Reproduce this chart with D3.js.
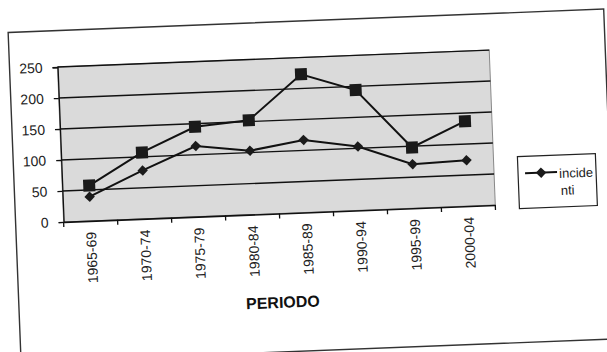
<!DOCTYPE html>
<html>
<head>
<meta charset="utf-8">
<script src="https://cdn.jsdelivr.net/npm/d3@7"></script>
<style>
  body { margin: 0; background: #fff; }
  svg { display: block; font-family: "Liberation Sans", Arial, sans-serif; }
</style>
</head>
<body>
<div id="container"></div>
<script>
let w = 607;
let h = 352;

// data
let periods = ["1965-69", "1970-74", "1975-79", "1980-84", "1985-89", "1990-94", "1995-99", "2000-04"];
let incidenti = [39, 78, 114, 103, 117, 103, 71, 74];
let altri = [57, 107, 145, 152, 223, 194, 98, 137];
let yTicks = [0, 50, 100, 150, 200, 250];

// plot area (before the scan tilt)
let plotLeft = 62, plotRight = 494, plotTop = 57.5, plotBottom = 212.5;

let svg = d3.select("#container")
  .append("svg")
  .attr("width", w)
  .attr("height", h);

let viz = svg.append("g")
  .attr("transform", "rotate(-2.25, 303, 176)");

// outer frame
viz.append("rect")
  .attr("x", 14)
  .attr("y", 21)
  .attr("width", 596)
  .attr("height", 330)
  .attr("fill", "none")
  .attr("stroke", "#333")
  .attr("stroke-width", 1.4);

let x = d3.scaleBand().domain(periods).range([plotLeft, plotRight]).padding(0);
let y = d3.scaleLinear().domain([0, 250]).range([plotBottom, plotTop]);

// plot background
viz.append("rect")
  .attr("x", plotLeft)
  .attr("y", plotTop)
  .attr("width", plotRight - plotLeft)
  .attr("height", plotBottom - plotTop)
  .attr("fill", "#dadada")
  .attr("stroke", "#888")
  .attr("stroke-width", 1);

// gridlines
viz.selectAll(".grid")
  .data(yTicks.filter(d => d > 0))
  .enter()
  .append("line")
  .attr("class", "grid")
  .attr("x1", plotLeft)
  .attr("x2", plotRight)
  .attr("y1", d => y(d))
  .attr("y2", d => y(d))
  .attr("stroke", "#111")
  .attr("stroke-width", 1.4);

// y axis
let yAxis = viz.append("g")
  .attr("transform", "translate(" + plotLeft + ",0)")
  .call(d3.axisLeft(y).tickValues(yTicks).tickSize(5).tickPadding(10));
yAxis.selectAll("text").attr("font-size", "14px").attr("fill", "#222").style("font-family", "Liberation Sans, Arial, sans-serif");
yAxis.selectAll("line, path").attr("stroke", "#111").attr("stroke-width", 1.3);

// x axis
let xAxis = viz.append("g")
  .attr("transform", "translate(0," + plotBottom + ")")
  .call(d3.axisBottom(x).tickSize(0));
xAxis.select("path").attr("stroke", "#111").attr("stroke-width", 1.6);
xAxis.selectAll("text")
  .attr("font-size", "14px")
  .attr("fill", "#222")
  .style("font-family", "Liberation Sans, Arial, sans-serif")
  .attr("transform", "rotate(-90)")
  .attr("text-anchor", "end")
  .attr("x", -11)
  .attr("y", 0)
  .attr("dy", "0.35em");

// tick marks between categories
let bounds = periods.map(d => x(d)).concat([x(periods[periods.length - 1]) + x.bandwidth()]);
viz.selectAll(".xtick")
  .data(bounds)
  .enter()
  .append("line")
  .attr("class", "xtick")
  .attr("x1", d => d)
  .attr("x2", d => d)
  .attr("y1", plotBottom)
  .attr("y2", plotBottom + 5)
  .attr("stroke", "#111")
  .attr("stroke-width", 1.3);

// axis title
viz.append("text")
  .text("PERIODO")
  .attr("x", (plotLeft + plotRight) / 2)
  .attr("y", 307)
  .attr("text-anchor", "middle")
  .attr("font-size", "16px")
  .attr("font-weight", "bold")
  .attr("fill", "#111");

let cx = d => x(d) + x.bandwidth() / 2;
let line = d3.line().x((d, i) => cx(periods[i])).y(d => y(d));

// upper series (squares)
viz.append("path")
  .datum(altri)
  .attr("d", line)
  .attr("fill", "none")
  .attr("stroke", "#111")
  .attr("stroke-width", 2);

viz.selectAll(".sq")
  .data(altri)
  .enter()
  .append("rect")
  .attr("class", "sq")
  .attr("x", (d, i) => cx(periods[i]) - 6)
  .attr("y", d => y(d) - 6)
  .attr("width", 12)
  .attr("height", 12)
  .attr("fill", "#1a1a1a");

// incidenti (diamonds)
viz.append("path")
  .datum(incidenti)
  .attr("d", line)
  .attr("fill", "none")
  .attr("stroke", "#111")
  .attr("stroke-width", 2);

let diamond = d3.symbol().type(d3.symbolDiamond2).size(70);
viz.selectAll(".dm")
  .data(incidenti)
  .enter()
  .append("path")
  .attr("class", "dm")
  .attr("d", diamond)
  .attr("transform", (d, i) => "translate(" + cx(periods[i]) + "," + y(d) + ")")
  .attr("fill", "#1a1a1a");

// legend
let legend = viz.append("g").attr("transform", "translate(518,165)");
legend.append("rect")
  .attr("width", 78)
  .attr("height", 52)
  .attr("fill", "#fff")
  .attr("stroke", "#222")
  .attr("stroke-width", 1.2);
legend.append("line")
  .attr("x1", 7)
  .attr("x2", 39)
  .attr("y1", 17)
  .attr("y2", 17)
  .attr("stroke", "#111")
  .attr("stroke-width", 2);
legend.append("path")
  .attr("d", diamond)
  .attr("transform", "translate(23,17)")
  .attr("fill", "#1a1a1a");
legend.append("text")
  .text("incide")
  .attr("x", 41)
  .attr("y", 23)
  .attr("font-size", "13px")
  .attr("fill", "#222");
legend.append("text")
  .text("nti")
  .attr("x", 42)
  .attr("y", 40)
  .attr("font-size", "13px")
  .attr("fill", "#222");
</script>
</body>
</html>
